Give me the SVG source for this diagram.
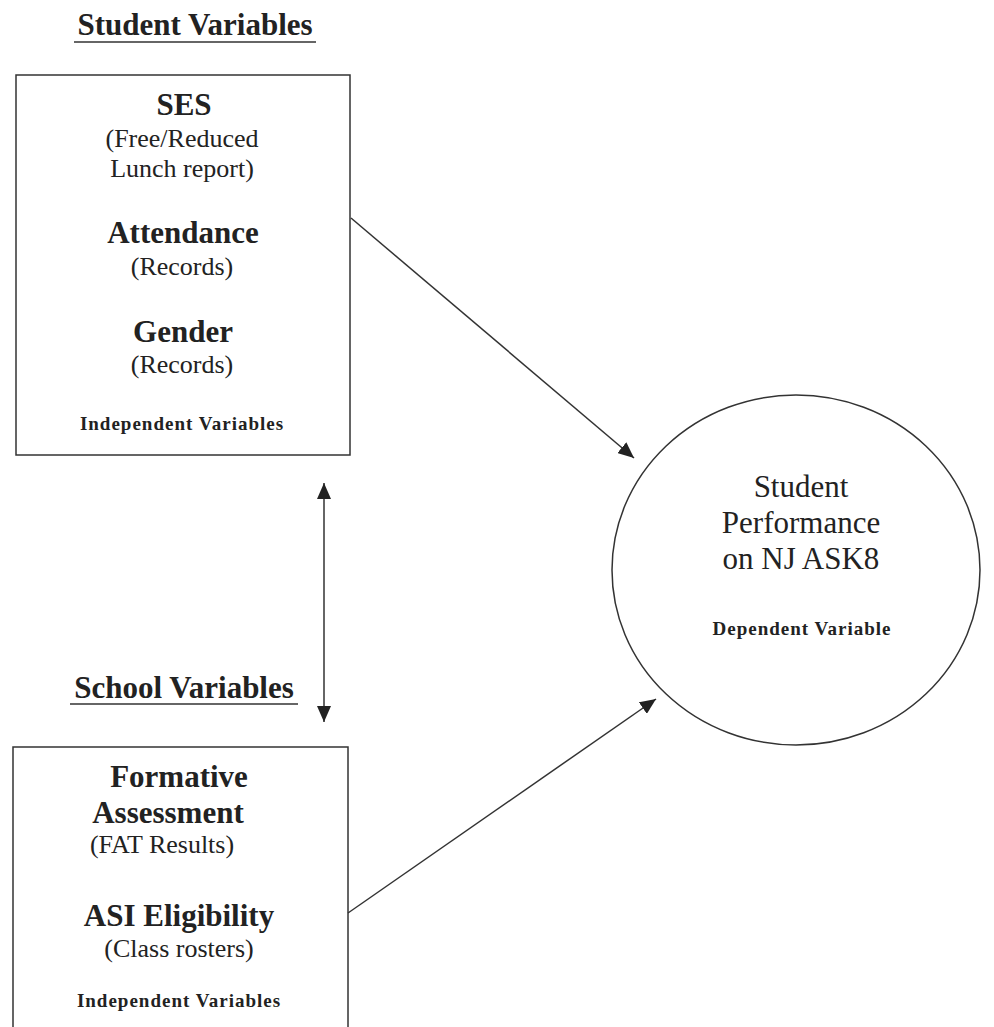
<svg xmlns="http://www.w3.org/2000/svg" width="994" height="1027" viewBox="0 0 994 1027">
<style>
.t{font-family:"Liberation Serif","Times New Roman",serif;fill:#222;text-anchor:middle}
.b{font-weight:bold;font-size:31px}
.r{font-size:26px}
.s{font-weight:bold;font-size:19px;letter-spacing:1px}
.c{font-size:31px}
.box{fill:none;stroke:#333;stroke-width:1.5}
.ln{stroke:#333;stroke-width:1.5;fill:none}
</style>
<defs>
<marker id="ah" markerUnits="userSpaceOnUse" markerWidth="18" markerHeight="14" refX="16" refY="7" orient="auto-start-reverse">
<path d="M0,0 L16,7 L0,14 Z" fill="#222"/>
</marker>
</defs>
<g id="student-title">
<text class="t b" x="195" y="35">Student Variables</text>
<line class="ln" x1="74" y1="42" x2="316" y2="42"/>
</g>
<g id="student-box">
<rect class="box" x="16" y="75" width="334" height="380"/>
<text class="t b" x="184" y="115">SES</text>
<text class="t r" x="182" y="147">(Free/Reduced</text>
<text class="t r" x="182" y="177">Lunch report)</text>
<text class="t b" x="183" y="243">Attendance</text>
<text class="t r" x="182" y="275">(Records)</text>
<text class="t b" x="183" y="342">Gender</text>
<text class="t r" x="182" y="373">(Records)</text>
<text class="t s" x="182" y="430">Independent Variables</text>
</g>
<g id="school-title">
<text class="t b" x="184" y="698">School Variables</text>
<line class="ln" x1="70" y1="704" x2="298" y2="704"/>
</g>
<g id="school-box">
<rect class="box" x="13" y="747" width="335" height="300"/>
<text class="t b" x="179" y="787">Formative</text>
<text class="t b" x="168" y="823">Assessment</text>
<text class="t r" x="162" y="853">(FAT Results)</text>
<text class="t b" x="179" y="926">ASI Eligibility</text>
<text class="t r" x="179" y="957">(Class rosters)</text>
<text class="t s" x="179" y="1007">Independent Variables</text>
</g>
<g id="performance">
<ellipse class="box" cx="796" cy="570" rx="184" ry="175"/>
<text class="t c" x="801" y="497">Student</text>
<text class="t c" x="801" y="533">Performance</text>
<text class="t c" x="801" y="569">on NJ ASK8</text>
<text class="t s" x="802" y="635">Dependent Variable</text>
</g>
<g id="connectors">
<line class="ln" x1="351" y1="218" x2="634" y2="458" marker-end="url(#ah)"/>
<line class="ln" x1="348" y1="913" x2="656" y2="699" marker-end="url(#ah)"/>
<line class="ln" x1="324" y1="483" x2="324" y2="722" marker-start="url(#ah)" marker-end="url(#ah)"/>
</g>
</svg>
